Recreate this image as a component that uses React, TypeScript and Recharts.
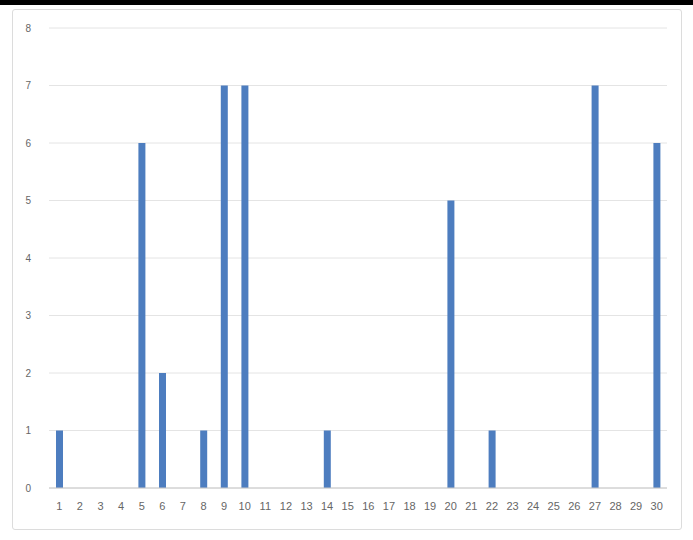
import React from 'react';
import { BarChart, Bar, XAxis, YAxis, CartesianGrid } from 'recharts';

const days = [
  '1', '2', '3', '4', '5', '6', '7', '8', '9', '10',
  '11', '12', '13', '14', '15', '16', '17', '18', '19', '20',
  '21', '22', '23', '24', '25', '26', '27', '28', '29', '30',
];
const counts = [
  1, 0, 0, 0, 6, 2, 0, 1, 7, 7,
  0, 0, 0, 1, 0, 0, 0, 0, 0, 5,
  0, 1, 0, 0, 0, 0, 7, 0, 0, 6,
];
const yTicks = [0, 1, 2, 3, 4, 5, 6, 7, 8];

const data = days.map((d, i) => ({ day: d, count: counts[i] }));

const App = () => {
  return (
    <div style={{ position: 'absolute', left: 0, top: 0, width: 693, height: 540, background: '#fff', overflow: 'hidden' }}>
      <div style={{ position: 'absolute', left: 0, top: 0, width: 693, height: 5, background: '#000' }} />
      <div
        style={{
          position: 'absolute',
          left: 12,
          top: 9,
          width: 668,
          height: 519,
          border: '1px solid #dcdcdc',
          borderRadius: 3,
        }}
      />
      <div style={{ position: 'absolute', left: 0, top: 0 }}>
        <BarChart width={693} height={540} data={data} margin={{ top: 28, right: 26, bottom: 22, left: 0 }}>
          <CartesianGrid vertical={false} stroke="#e4e4e4" />
          <XAxis
            dataKey="day"
            interval={0}
            height={30}
            tickLine={false}
            axisLine={{ stroke: '#c8c8c8' }}
            tickMargin={8}
            tick={{ fontSize: 11, fill: '#666', fontFamily: 'Liberation Sans, Arial, sans-serif' }}
          />
          <YAxis
            width={49}
            domain={[0, 8]}
            ticks={yTicks}
            axisLine={false}
            tickLine={false}
            tickMargin={12}
            tick={{ fontSize: 10, fill: '#666', fontFamily: 'Liberation Sans, Arial, sans-serif' }}
          />
          <Bar dataKey="count" fill="#4d7dbf" barSize={7} isAnimationActive={false} />
        </BarChart>
      </div>
    </div>
  );
};

export default App;
